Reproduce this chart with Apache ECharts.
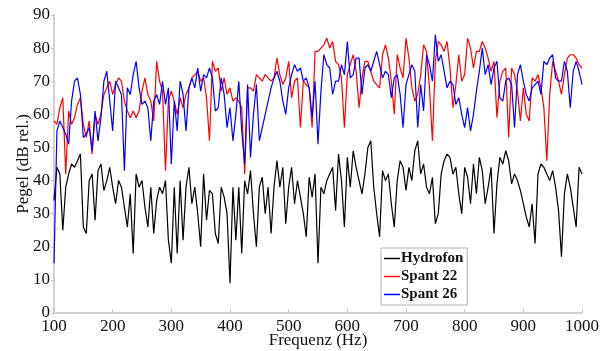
<!DOCTYPE html>
<html>
<head>
<meta charset="utf-8">
<script src="https://cdn.jsdelivr.net/npm/echarts@6/dist/echarts.min.js"></script>
<style>
html,body{margin:0;padding:0;background:#fff;}
#chart{width:611px;height:351px;}
</style>
</head>
<body>
<div id="chart"></div>
<script>
// Frequencies (Hz), 5 Hz steps from 100 to 1000
const freqStart = 100;
const freqStep = 5;

// Hydrofon (dB rel.)
const hydrofon = [
  34,44,42,25,38,42,45,44,46,48,
  26,24,40,42,28,43,45,37,40,44,
  38,33,40,38,32,26,36,18,42,38,
  40,32,26,38,24,34,38,36,40,22,
  15,38,18,40,22,38,44,33,38,30,
  20,42,28,37,36,24,21,38,35,30,
  9,38,22,38,18,40,36,43,30,20,
  38,41,30,38,24,38,46,38,44,27,
  38,44,33,40,35,30,23,41,35,42,
  15,38,36,40,42,44,31,48,40,26,
  47,38,49,44,40,36,42,50,52,38,
  30,23,43,40,42,33,26,40,46,44,
  37,44,40,49,52,42,45,38,36,41,
  27,30,42,46,48,47,42,44,36,30,
  44,41,33,45,36,47,43,33,38,44,
  24,39,47,45,49,46,39,42,40,37,
  33,29,26,33,21,42,45,44,42,40,
  43,38,31,17,36,42,38,32,26,44,
  42
];

// Spant 22 (dB rel.)
const spant22 = [
  58,57,62,65,42,61,57,59,63,65,
  57,53,58,48,60,57,60,66,68,70,
  66,69,71,70,64,61,59,61,59,61,
  67,71,66,64,58,76,70,67,43,64,
  67,64,60,65,62,66,68,71,72,73,
  70,71,65,52,76,73,74,67,71,66,
  68,64,65,64,62,42,68,68,67,72,
  71,70,72,71,70,71,77,72,69,71,
  76,65,70,71,56,70,69,68,56,79,
  79,80,81,83,80,82,76,75,71,56,
  72,75,78,73,62,71,76,76,73,70,
  69,68,78,81,77,70,60,78,74,71,
  83,77,68,64,66,72,81,79,68,52,
  76,82,81,79,82,74,62,69,78,70,
  72,83,80,74,79,79,82,80,77,73,
  76,59,70,73,74,53,74,72,67,58,
  68,60,58,71,70,72,68,62,46,66,
  76,73,70,66,72,77,78,78,77,75,
  74
];

// Spant 26 (dB rel.)
const spant26 = [
  15,55,58,56,54,51,64,70,71,66,
  53,54,56,49,61,52,59,70,73,64,
  55,70,68,66,43,68,66,72,76,68,
  63,64,62,52,64,66,63,70,63,68,
  45,64,55,70,66,55,68,71,68,74,
  67,72,71,74,71,61,62,71,66,56,
  62,52,60,70,55,45,69,47,60,69,
  52,56,60,64,68,71,73,70,64,60,
  68,72,75,73,74,70,71,68,59,70,
  51,67,78,75,74,66,70,70,75,72,
  82,71,72,77,77,66,74,75,73,76,
  79,75,71,73,72,65,71,72,66,56,
  69,72,75,73,56,69,61,78,75,70,
  84,76,78,73,68,70,69,63,65,60,
  56,62,55,60,67,73,80,72,75,69,
  74,76,65,64,70,71,69,56,72,75,
  70,66,64,68,69,70,66,76,75,77,
  78,71,70,70,76,73,62,73,76,73,
  69
];

const seriesNames = ['Hydrofon', 'Spant 22', 'Spant 26'];
const xTicks = [100,200,300,400,500,600,700,800,900,1000];
const yTicks = [0,10,20,30,40,50,60,70,80,90];

function pairs(vals){
  return vals.map((v,i)=>[freqStart + i*freqStep, v]);
}

const font = '"Liberation Serif", "Times New Roman", serif';
const axisGray = '#c4c4c4';

const chart = echarts.init(document.getElementById('chart'), null, {renderer:'canvas'});
chart.setOption({
  animation:false,
  backgroundColor:'#ffffff',
  grid:{left:54, right:29, top:15, bottom:38, containLabel:false, outerBoundsMode:'none'},
  xAxis:{
    type:'value', min:xTicks[0], max:xTicks[xTicks.length-1], interval:100,
    name:'Frequenz (Hz)', nameLocation:'middle', nameGap:19, nameMoveOverlap:false,
    nameTextStyle:{fontFamily:font, fontSize:17, color:'#111'},
    axisLine:{show:true, lineStyle:{color:axisGray, width:1.5}},
    axisTick:{show:true, inside:true, length:4, lineStyle:{color:axisGray}},
    axisLabel:{fontFamily:font, fontSize:17, color:'#111', margin:5, formatter:(v)=>String(v)},
    splitLine:{show:false}
  },
  yAxis:{
    type:'value', min:yTicks[0], max:yTicks[yTicks.length-1], interval:10,
    name:'Pegel (dB rel.)', nameLocation:'middle', nameGap:22, nameMoveOverlap:false,
    nameTextStyle:{fontFamily:font, fontSize:17, color:'#111'},
    axisLine:{show:true, lineStyle:{color:axisGray, width:1.5}},
    axisTick:{show:true, inside:false, length:3, lineStyle:{color:axisGray}},
    axisLabel:{fontFamily:font, fontSize:17, color:'#111', margin:4, formatter:(v)=>String(v)},
    splitLine:{show:false}
  },
  legend:{
    orient:'vertical', left:381, top:248,
    backgroundColor:'#ffffff', borderColor:'#b0b0b0', borderWidth:1,
    padding:[3,4,3,3], itemGap:3,
    icon:'rect', itemWidth:16, itemHeight:1.5,
    textStyle:{fontFamily:font, fontSize:15, fontWeight:'bold', color:'#111', padding:[0,0,0,-4]},
    data:seriesNames
  },
  series:[
    {name:seriesNames[0], type:'line', data:pairs(hydrofon), showSymbol:false, symbol:'none',
     lineStyle:{color:'#000000', width:1.2}, itemStyle:{color:'#000000'}},
    {name:seriesNames[1], type:'line', data:pairs(spant22), showSymbol:false, symbol:'none',
     lineStyle:{color:'#ff0000', width:1.2}, itemStyle:{color:'#ff0000'}},
    {name:seriesNames[2], type:'line', data:pairs(spant26), showSymbol:false, symbol:'none',
     lineStyle:{color:'#0000ff', width:1.2}, itemStyle:{color:'#0000ff'}}
  ]
});
</script>
</body>
</html>
